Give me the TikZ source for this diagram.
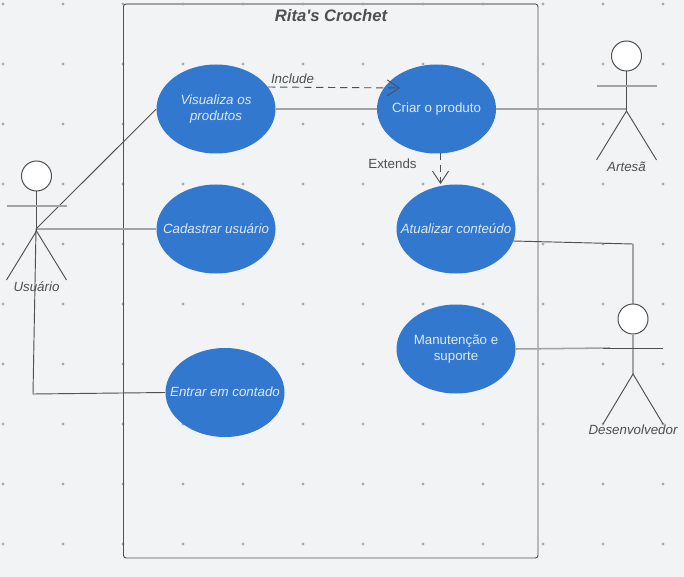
\documentclass[tikz,border=0pt]{standalone}
\usepackage{fontspec}
\setmainfont{Liberation Sans}
\usepackage{xcolor}
\usetikzlibrary{arrows.meta,shapes.geometric}
\definecolor{pagebg}{HTML}{F1F3F5}
\definecolor{griddot}{HTML}{A9ABAD}
\definecolor{caseblue}{HTML}{3278CE}
\definecolor{caseink}{HTML}{DCE9FA}
\definecolor{lineink}{HTML}{505050}
\definecolor{linesoft}{HTML}{A2A3A4}
\definecolor{labelink}{HTML}{4F4F4F}
\newcommand{\casetext}[2][1pt]{\makebox[0pt]{\raisebox{#1}{#2}}}
\tikzset{%
	usecase/.style   = {ellipse, fill=caseblue, draw=none, minimum width=89.25pt, minimum height=66.75pt, inner sep=0pt, text=caseink, align=center, font=\fontsize{10}{12}\selectfont},
	actorhead/.style = {circle, draw=lineink, fill=white, line width=0.75pt, minimum size=22.5pt, inner sep=0pt},
	actorname/.style = {text=labelink, font=\fontsize{10}{12}\selectfont\itshape, inner sep=0pt},
	boxlabel/.style  = {text=labelink, font=\fontsize{10}{12}\selectfont, inner sep=0pt},
	link/.style      = {draw=lineink, line width=0.7pt},
	linksoft/.style  = {draw=linesoft, line width=1.15pt},
	linkdash/.style  = {link, dash pattern=on 5.6pt off 3.4pt, -{Straight Barb[length=9pt,width=12pt,line width=0.7pt]}},
}
\begin{document}
\begin{tikzpicture}[x=0.75pt,y=-0.75pt]
	\useasboundingbox[fill=pagebg] (0,0) rectangle (684,577);
	% grid dots
	\foreach \i in {3,63,...,663}
		\foreach \j in {4,64,...,544}
			\fill[griddot] (\i,\j) circle (1.7);
	
	% system box
	\draw[link,rounded corners=2pt] (123.5,4) rectangle (538,558);
	\draw[linksoft] (126,4) -- (536,4);
	\node[font=\fontsize{12.5}{14}\selectfont\bfseries\itshape,text=labelink,inner sep=0pt] (title) at (331,16) {Rita\textquotesingle s Crochet};
	
	% connector ends
	\coordinate (usuariohip) at (36,229);
	\coordinate (usuariobend) at (33,394);
	\coordinate (artesahip) at (627,109);
	\coordinate (devtop) at (633,304);
	\coordinate (devbend) at (633,244);
	\coordinate (devarm) at (610,348);
	\coordinate (atualizarout) at (513,241);
	
	% use cases
	\node[usecase] (visualiza) at (216,109) {\casetext{\itshape Visualiza os}\\\casetext{\itshape produtos}};
	\node[usecase] (criar) at (436.5,109) {\casetext{Criar o produto}};
	\node[usecase] (cadastrar) at (216,229) {\casetext{\itshape Cadastrar usuário}};
	\node[usecase] (atualizar) at (456,229) {\casetext{\itshape Atualizar conteúdo}};
	\node[usecase] (manutencao) at (456,349) {\casetext[1.75pt]{Manutenção e}\\\casetext[1.75pt]{suporte}};
	\node[usecase] (contato) at (225,392.5) {\casetext[1.75pt]{\itshape Entrar em contado}};
	
	\draw[link] (visualiza.west) -- (usuariohip);
	\draw[linksoft] (cadastrar.west) -- (usuariohip);
	\draw[link] (contato.west) -- (usuariobend) -- (usuariohip);
	\draw[linksoft] (visualiza.east) -- (criar.west);
	\draw[linksoft] (criar.east) -- (artesahip);
	\draw[link] (atualizarout) -- (devbend);
	\draw[linksoft] (devbend) -- (devtop);
	\draw[linksoft] (manutencao.east) -- (devarm);
	
	% dashed relations
	\coordinate (includestart) at (268,87);
	\coordinate (includeend) at (400,88);
	\coordinate (extendstart) at (440.5,153);
	\coordinate (extendend) at (440.5,184);
	\draw[linkdash] (includestart) -- (includeend);
	\draw[linkdash] (extendstart) -- (extendend);
	\node[boxlabel,font=\fontsize{10}{12}\selectfont\itshape] (include) at (292.5,79) {Include};
	\node[boxlabel] (extends) at (392.5,164) {Extends};
	
	% actors
	\begin{scope}[shift={(36.5,176)}]
	\node[actorhead] (usuariohead) at (0,0) {};
	\coordinate (usuariobody) at (0,55);
	\draw[link] (usuariohead) -- (usuariobody);
	\draw[linksoft] (-30,30) -- (30,30);
	\draw[link] (-30,104) -- (usuariobody) -- (30,104);
	\node[actorname] (usuario) at (0,111) {Usuário};
	\end{scope}
	
	\begin{scope}[shift={(626.5,56)}]
	\node[actorhead] (artesahead) at (0,0) {};
	\coordinate (artesabody) at (0,55);
	\draw[link] (artesahead) -- (artesabody);
	\draw[linksoft] (-30,30) -- (30,30);
	\draw[link] (-30,104) -- (artesabody) -- (30,104);
	\node[actorname] (artesa) at (0,111) {Artesã};
	\end{scope}
	
	\begin{scope}[shift={(633,319)}]
	\node[actorhead] (devhead) at (0,0) {};
	\coordinate (devbody) at (0,55);
	\draw[linksoft] (devhead) -- (devbody);
	\draw[link] (-30,29) -- (30,29);
	\draw[link] (-30,105) -- (devbody) -- (30,105);
	\node[actorname] (dev) at (0,111) {Desenvolvedor};
	\end{scope}
\end{tikzpicture}
\end{document}
